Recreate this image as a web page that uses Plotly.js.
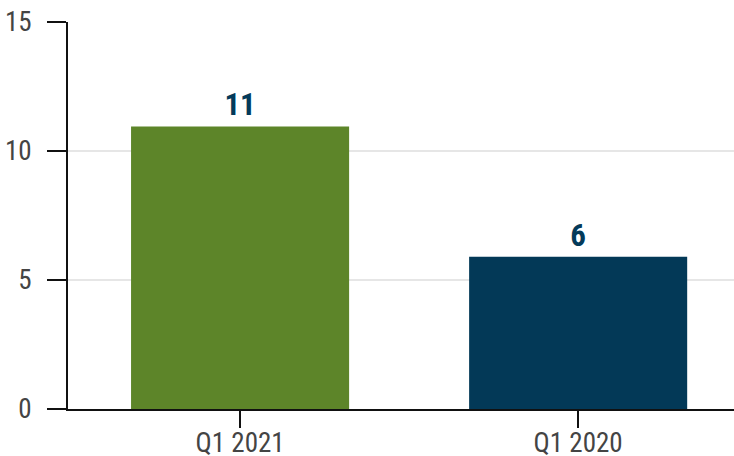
<!DOCTYPE html>
<html>
<head>
<meta charset="utf-8">
<script src="https://cdn.plot.ly/plotly-3.0.1.min.js"></script>
<style>html,body{margin:0;padding:0;background:#fff;}#chart{width:734px;height:456px;}</style>
</head>
<body>
<div id="chart"></div>
<script>
const categories = ["Q1 2021", "Q1 2020"];
const values = [10.95, 5.9];
const barColors = ["#5d8529", "#033957"];
const yTicks = [0, 5, 10, 15];

const FONT = "'Roboto Condensed', 'Liberation Sans Narrow', 'Arial Narrow', Roboto, sans-serif";

const trace = {
  type: "bar",
  x: categories,
  y: values,
  width: 0.645,
  marker: {color: barColors, line: {width: 0}},
  texttemplate: "%{y:.0f}",
  textposition: "outside",
  cliponaxis: false,
  textfont: {family: FONT, size: 31, color: "#043a5a", weight: "bold"},
  hoverinfo: "none"
};

const layout = {
  width: 734, height: 456,
  margin: {l: 68, r: 0, t: 22, b: 47, pad: 0},
  paper_bgcolor: "#fff", plot_bgcolor: "#fff",
  showlegend: false,
  font: {family: FONT, size: 27, color: "#444"},
  xaxis: {
    type: "category",
    range: [-0.509, 1.461],
    showline: true, linecolor: "#111", linewidth: 2,
    ticks: "outside", ticklen: 17, tickwidth: 2, tickcolor: "#111",
    showgrid: false, zeroline: false,
    tickfont: {family: FONT, size: 27, color: "#444"},
    ticklabelstandoff: -8
  },
  yaxis: {
    range: [0, 15],
    tickvals: yTicks,
    showline: true, linecolor: "#111", linewidth: 2,
    ticks: "outside", ticklen: 19, tickwidth: 2, tickcolor: "#111",
    showgrid: true, gridcolor: "#e6e6e6", gridwidth: 2,
    zeroline: false,
    tickfont: {family: FONT, size: 27, color: "#444"},
    ticklabelstandoff: 10
  }
};

Plotly.newPlot("chart", [trace], layout, {displayModeBar: false, staticPlot: true});
</script>
</body>
</html>
